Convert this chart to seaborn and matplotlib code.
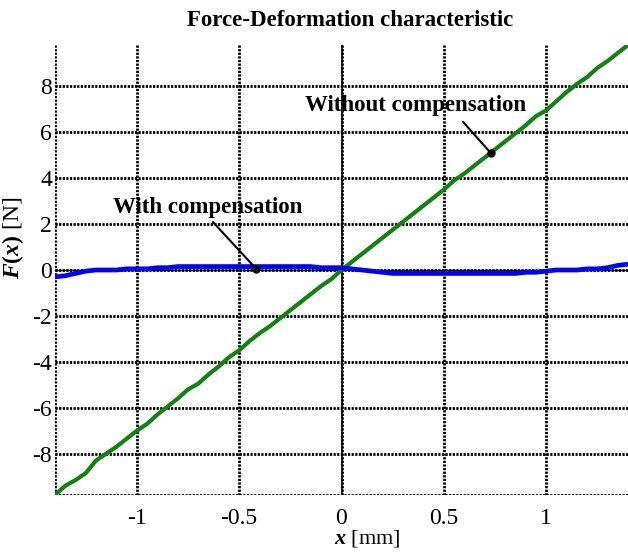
import matplotlib
matplotlib.use("Agg")
import matplotlib.pyplot as plt
import numpy as np
import pandas as pd
import seaborn as sns

# data
x_mm = [-1.40, -1.35, -1.30, -1.25, -1.20, -1.15, -1.10, -1.05, -1.00, -0.95,
        -0.90, -0.85, -0.80, -0.75, -0.70, -0.65, -0.60, -0.55, -0.50, -0.45,
        -0.40, -0.35, -0.30, -0.25, -0.20, -0.15, -0.10, -0.05, 0.00, 0.05,
        0.10, 0.15, 0.20, 0.25, 0.30, 0.35, 0.40, 0.45, 0.50, 0.55,
        0.60, 0.65, 0.70, 0.75, 0.80, 0.85, 0.90, 0.95, 1.00, 1.05,
        1.10, 1.15, 1.20, 1.25, 1.30, 1.35, 1.40]
f_without = [-9.80, -9.40, -9.15, -8.85, -8.30, -8.00, -7.70, -7.35, -7.00, -6.70,
             -6.30, -5.95, -5.60, -5.20, -4.95, -4.55, -4.20, -3.80, -3.50, -3.10,
             -2.75, -2.45, -2.10, -1.75, -1.40, -1.05, -0.70, -0.40, 0.00, 0.35,
             0.70, 1.05, 1.40, 1.75, 2.10, 2.45, 2.80, 3.15, 3.50, 3.90,
             4.20, 4.55, 4.90, 5.25, 5.60, 5.95, 6.30, 6.70, 6.95, 7.35,
             7.75, 8.10, 8.40, 8.80, 9.10, 9.45, 9.80]
f_with = [-0.30, -0.25, -0.15, -0.05, 0.00, 0.00, 0.00, 0.05, 0.05, 0.05,
          0.10, 0.10, 0.15, 0.15, 0.15, 0.15, 0.15, 0.15, 0.15, 0.15,
          0.15, 0.15, 0.15, 0.15, 0.15, 0.15, 0.10, 0.10, 0.10, 0.05,
          0.00, -0.05, -0.10, -0.15, -0.15, -0.15, -0.15, -0.15, -0.15, -0.15,
          -0.15, -0.15, -0.15, -0.15, -0.15, -0.15, -0.10, -0.10, -0.05, 0.00,
          0.00, 0.00, 0.05, 0.05, 0.10, 0.20, 0.25]
x_ticks = [-1, -0.5, 0, 0.5, 1]
y_ticks = [-8, -6, -4, -2, 0, 2, 4, 6, 8]

# annotation: label text, label position, leader start, marked point
labels = ["With compensation", "Without compensation"]
label_xy = [(-0.652, 2.74), (0.363, 7.17)]
leader_start = [(-0.628, 2.09), (0.594, 6.45)]
marked_xy = [(-0.417, 0.05), (0.73, 5.09)]

sns.set_style("white")
plt.rcParams["font.family"] = ["Liberation Serif", "DejaVu Serif"]
plt.rcParams["axes.unicode_minus"] = False
plt.rcParams["mathtext.fontset"] = "custom"
plt.rcParams["mathtext.rm"] = "Liberation Serif"
plt.rcParams["mathtext.bf"] = "Liberation Serif:bold"
plt.rcParams["mathtext.bfit"] = "Liberation Serif:italic:bold"
plt.rcParams["text.color"] = "black"
plt.rcParams["axes.labelcolor"] = "black"
plt.rcParams["xtick.color"] = "black"
plt.rcParams["ytick.color"] = "black"

df = pd.DataFrame({"x": x_mm, "without": f_without, "with": f_with})

fig = plt.figure(figsize=(6.28, 5.52), dpi=100)
ax = fig.add_axes([55 / 628, 1 - 495 / 552, 573 / 628, 450 / 552])

grid_kw = dict(color="black", lw=2.0, linestyle=(0, (0.8, 0.5)), zorder=1)
for yt in y_ticks:
    ax.axhline(yt, **grid_kw)
for xt in x_ticks:
    ax.axvline(xt, **grid_kw)
ax.axvline(-1.4, **grid_kw)
ax.axhline(-9.8, **grid_kw)
ax.axvline(0, color="black", lw=1.2, zorder=2)
ax.axhline(0, color="black", lw=1.0, zorder=2)

sns.lineplot(data=df, x="x", y="without", ax=ax, color="#0f820f", lw=3.0, zorder=3)
sns.lineplot(data=df, x="x", y="with", ax=ax, color="#0000ff", lw=3.4, zorder=3)

ax.set_xlim(-1.4, 1.4)
ax.set_ylim(-9.8, 9.8)
ax.set_xticks(x_ticks)
ax.set_xticklabels(["-1", "-0.5", "0", "0.5", "1"])
ax.set_yticks(y_ticks)
ax.set_yticklabels([str(v) for v in y_ticks])
ax.tick_params(length=0, labelsize=17)
ax.tick_params(axis="x", pad=9)
ax.tick_params(axis="y", pad=2)
for s in ax.spines.values():
    s.set_visible(False)

ax.set_xlabel(r"$\mathbfit{x}$ [mm]", fontsize=16)
ax.xaxis.set_label_coords(0.546, -0.073)
ax.set_ylabel(r"$\mathbfit{F}\mathbf{(}\mathbfit{x}\mathbf{)}$ [N]", fontsize=17)
ax.yaxis.set_label_coords(-0.05, 0.571)

for text, txy, start, pt in zip(labels, label_xy, leader_start, marked_xy):
    ax.text(*txy, text, fontsize=16.5, fontweight="bold", ha="center", va="center")
    ax.annotate("", xy=pt, xytext=start,
                arrowprops=dict(arrowstyle="-", color="black", lw=1.5,
                                shrinkA=0, shrinkB=0))
    ax.plot([pt[0]], [pt[1]], "o", color="black", ms=5, zorder=4)

fig.text(350 / 628, 1 - 20 / 552, "Force-Deformation characteristic",
         fontsize=16.5, fontweight="bold", ha="center", va="center")

fig.savefig("out.png", dpi=100)
